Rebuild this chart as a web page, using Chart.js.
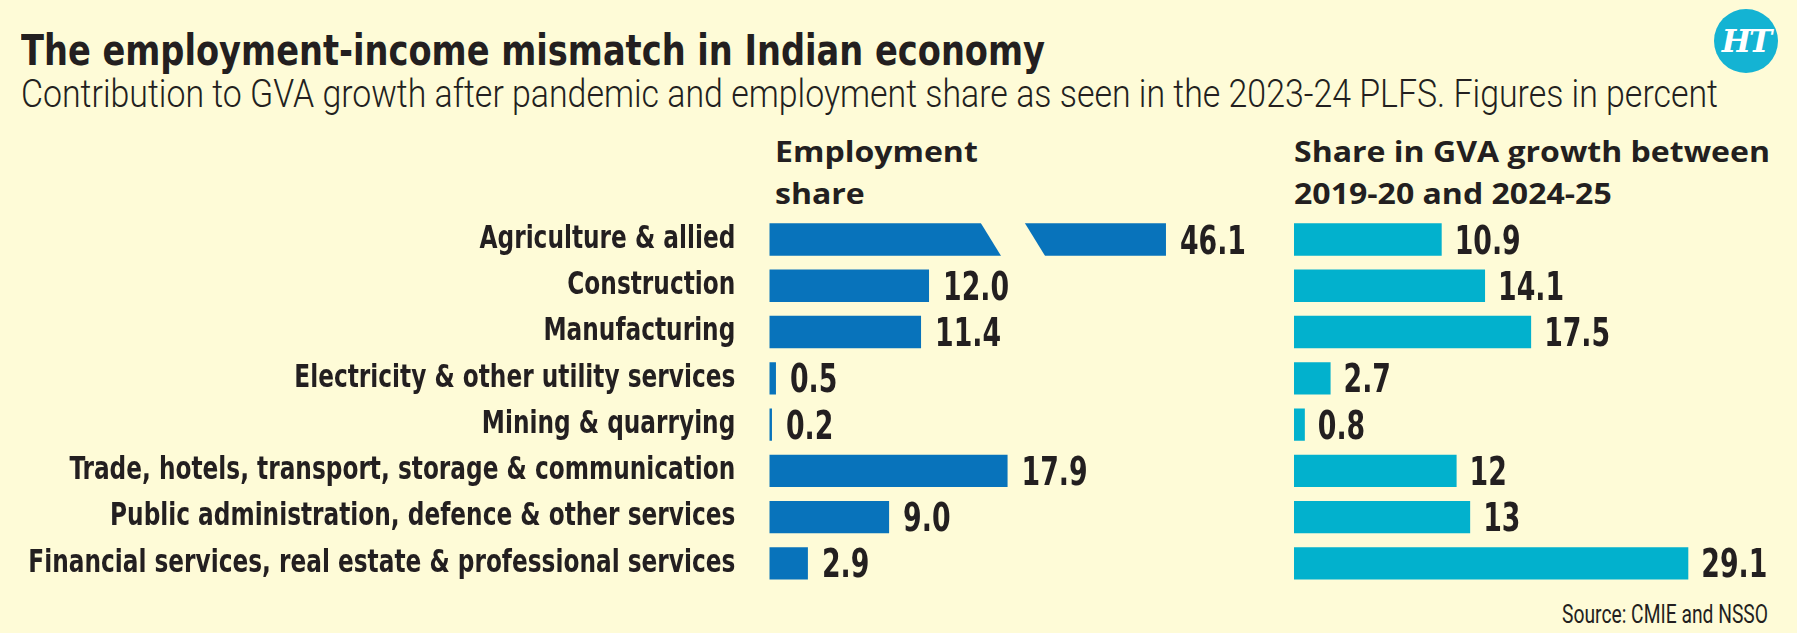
<!DOCTYPE html>
<html>
<head>
<meta charset="utf-8">
<script src="https://cdn.jsdelivr.net/npm/chart.js@4.4.1/dist/chart.umd.min.js"></script>
<style>
  html, body { margin: 0; padding: 0; background: #FEFBD7; }
  #page { position: relative; width: 1797px; height: 633px; overflow: hidden; background: #FEFBD7; color: #231F20; }
  .txt { position: absolute; white-space: nowrap; transform-origin: 0 0; line-height: 1.2; }
  .cond { font-family: "DejaVu Sans Condensed", "DejaVu Sans", sans-serif; }
  .light { font-family: Roboto, "Open Sans", sans-serif; }
  .wide { font-family: "Open Sans", "Noto Sans", sans-serif; }
  .box { position: absolute; }
  #logo { position: absolute; left: 1714px; top: 9px; width: 64px; height: 64px; border-radius: 50%; background: #14B3D3;
          color: #fff; font-family: "DejaVu Serif", serif; font-weight: bold; font-style: italic; font-size: 31px;
          display: flex; align-items: center; justify-content: center; letter-spacing: -2px; }
</style>
</head>
<body>
<div id="page">
  <div id="title" class="txt cond" style="font-weight:700;font-size:42px;">The employment-income mismatch in Indian economy</div>
  <div id="subtitle" class="txt light" style="font-weight:300;font-size:38.5px;">Contribution to GVA growth after pandemic and employment share as seen in the 2023-24 PLFS. Figures in percent</div>
  <div id="logo">HT</div>
  <div id="h1a" class="txt wide" style="font-weight:700;font-size:28px;">Employment</div>
  <div id="h1b" class="txt wide" style="font-weight:700;font-size:28px;">share</div>
  <div id="h2a" class="txt wide" style="font-weight:700;font-size:28px;">Share in GVA growth between</div>
  <div id="h2b" class="txt wide" style="font-weight:700;font-size:28px;">2019-20 and 2024-25</div>
  <div id="source" class="txt light" style="font-weight:400;font-size:26px;">Source: CMIE and NSSO</div>
  <div class="box" style="left:0;top:200px;width:1260px;height:400px;"><canvas id="left" width="1260" height="400"></canvas></div>
  <div class="box" style="left:1270px;top:200px;width:527px;height:400px;"><canvas id="right" width="527" height="400"></canvas></div>
</div>
<script>
// ---------------- DATA ----------------
const categories = [
  "Agriculture & allied",
  "Construction",
  "Manufacturing",
  "Electricity & other utility services",
  "Mining & quarrying",
  "Trade, hotels, transport, storage & communication",
  "Public administration, defence & other services",
  "Financial services, real estate & professional services"
];
const employmentShare = [46.1, 12.0, 11.4, 0.5, 0.2, 17.9, 9.0, 2.9];
const employmentLabels = ["46.1", "12.0", "11.4", "0.5", "0.2", "17.9", "9.0", "2.9"];
const gvaGrowthShare = [10.9, 14.1, 17.5, 2.7, 0.8, 12, 13, 29.1];
const gvaGrowthLabels = ["10.9", "14.1", "17.5", "2.7", "0.8", "12", "13", "29.1"];
// The employment bar for agriculture is drawn broken (axis break), capped at this value
const employmentBreakCap = 29.8;
const employmentBreakFrom = 15.9;

// ---------------- STYLE ----------------
const BG = "#FEFBD7";
const INK = "#231F20";
const COND = '"DejaVu Sans Condensed", "DejaVu Sans", sans-serif';

// ---------------- HTML TEXT PLACEMENT ----------------
function place(id, x, baseline, targetWidth, forcedScale) {
  const el = document.getElementById(id);
  el.style.left = x + "px";
  el.style.top = "0px";
  const m = document.createElement("span");
  m.style.cssText = "display:inline-block;width:0;height:0;vertical-align:baseline;";
  el.appendChild(m);
  const off = m.offsetTop;
  el.style.top = (baseline - off) + "px";
  let s = forcedScale;
  if (s === undefined && targetWidth) {
    const w = el.getBoundingClientRect().width;
    s = targetWidth / w;
  }
  if (s) el.style.transform = "scaleX(" + s + ")";
  return s;
}
place("title", 21, 65, 1024);
place("subtitle", 21, 107, 1697);
const sh = place("h2a", 1294, 162, 476);
place("h2b", 1294, 204, undefined, sh);
place("h1a", 775, 162, undefined, sh);
place("h1b", 775, 204, undefined, sh);
place("source", 1562, 623, 206);

// ---------------- FONT FITTING ----------------
const mctx = document.createElement("canvas").getContext("2d");
const catFontSize = 31.5;
mctx.font = "bold " + catFontSize + "px " + COND;
const widest = Math.max(...categories.map(c => mctx.measureText(c).width));
const catScaleX = Math.min(1, 707 / widest);
const valFontSize = 39;
mctx.font = "bold " + valFontSize + "px " + COND;
const valScaleX = Math.min(1, 66 / mctx.measureText("12.0").width);

// ---------------- CUSTOM AXIS (condensed tick labels) ----------------
class CondensedCategoryScale extends Chart.CategoryScale {
  _computeLabelArea() { return undefined; }
  drawLabels(chartArea) {
    const ctx = this.ctx;
    const ax = this.right - this.options.ticks.padding;
    ctx.save();
    ctx.translate(ax, 0);
    ctx.scale(catScaleX, 1);
    ctx.translate(-ax, 0);
    super.drawLabels(chartArea);
    ctx.restore();
  }
}
CondensedCategoryScale.id = "condensedCategory";
CondensedCategoryScale.defaults = Chart.CategoryScale.defaults;
Chart.register(CondensedCategoryScale);

const valueLabelPlugin = {
  id: "valueLabels",
  afterDatasetsDraw(chart, args, opts) {
    const ctx = chart.ctx;
    const meta = chart.getDatasetMeta(0);
    ctx.save();
    ctx.fillStyle = INK;
    ctx.font = "bold " + valFontSize + "px " + COND;
    ctx.textAlign = "left";
    ctx.textBaseline = "alphabetic";
    meta.data.forEach((bar, i) => {
      ctx.save();
      ctx.translate(bar.x + opts.gap, bar.y + 14);
      ctx.scale(valScaleX, 1);
      ctx.fillText(opts.labels[i], 0, 0);
      ctx.restore();
    });
    ctx.restore();
  }
};

const breakPlugin = {
  id: "barBreak",
  afterDatasetsDraw(chart, args, opts) {
    if (!opts.enabled) return;
    const ctx = chart.ctx;
    const xs = chart.scales.x;
    const meta = chart.getDatasetMeta(0);
    ctx.save();
    ctx.fillStyle = BG;
    opts.values.forEach((v, i) => {
      if (v <= opts.cap) return;
      const bar = meta.data[i];
      const top = bar.y - bar.height / 2 - 1;
      const bottom = bar.y + bar.height / 2 + 1;
      const x0 = xs.getPixelForValue(opts.from);
      const slant = 20, gap = 44;
      const k = slant / (bottom - top - 2);
      ctx.beginPath();
      ctx.moveTo(x0 - k, top);
      ctx.lineTo(x0 + gap - k, top);
      ctx.lineTo(x0 + gap + slant + k, bottom);
      ctx.lineTo(x0 + slant + k, bottom);
      ctx.closePath();
      ctx.fill();
    });
    ctx.restore();
  }
};

Chart.defaults.animation = false;

new Chart(document.getElementById("left"), {
  type: "bar",
  data: {
    labels: categories,
    datasets: [{
      data: employmentShare.map(v => Math.min(v, employmentBreakCap)),
      backgroundColor: "#0873BB",
      borderWidth: 0,
      barPercentage: 0.70,
      categoryPercentage: 1.0
    }]
  },
  options: {
    indexAxis: "y",
    responsive: false,
    maintainAspectRatio: false,
    devicePixelRatio: 1,
    animation: false,
    layout: { padding: { left: 0, right: 11.5, top: 16.4, bottom: 13.5 } },
    scales: {
      x: { display: false, min: 0, max: 36 },
      y: {
        type: "condensedCategory",
        grid: { display: false, drawTicks: false },
        border: { display: false },
        ticks: { color: INK, padding: 34, font: { family: COND, size: catFontSize, weight: "bold" } },
        afterFit(scale) { scale.width = 769.3; scale.paddingTop = 0; scale.paddingBottom = 0; }
      }
    },
    plugins: {
      legend: { display: false },
      tooltip: { enabled: false },
      valueLabels: { labels: employmentLabels, gap: 14 },
      barBreak: { enabled: true, values: employmentShare, cap: employmentBreakCap, from: employmentBreakFrom }
    }
  },
  plugins: [breakPlugin, valueLabelPlugin]
});

new Chart(document.getElementById("right"), {
  type: "bar",
  data: {
    labels: categories,
    datasets: [{
      data: gvaGrowthShare,
      backgroundColor: "#02B1CD",
      borderWidth: 0,
      barPercentage: 0.70,
      categoryPercentage: 1.0
    }]
  },
  options: {
    indexAxis: "y",
    responsive: false,
    maintainAspectRatio: false,
    devicePixelRatio: 1,
    animation: false,
    layout: { padding: { left: 24, right: 28.75, top: 16.4, bottom: 13.5 } },
    scales: {
      x: { display: false, min: 0, max: 35 },
      y: { display: false }
    },
    plugins: {
      legend: { display: false },
      tooltip: { enabled: false },
      valueLabels: { labels: gvaGrowthLabels, gap: 13 },
      barBreak: { enabled: false }
    }
  },
  plugins: [valueLabelPlugin]
});
</script>
</body>
</html>
